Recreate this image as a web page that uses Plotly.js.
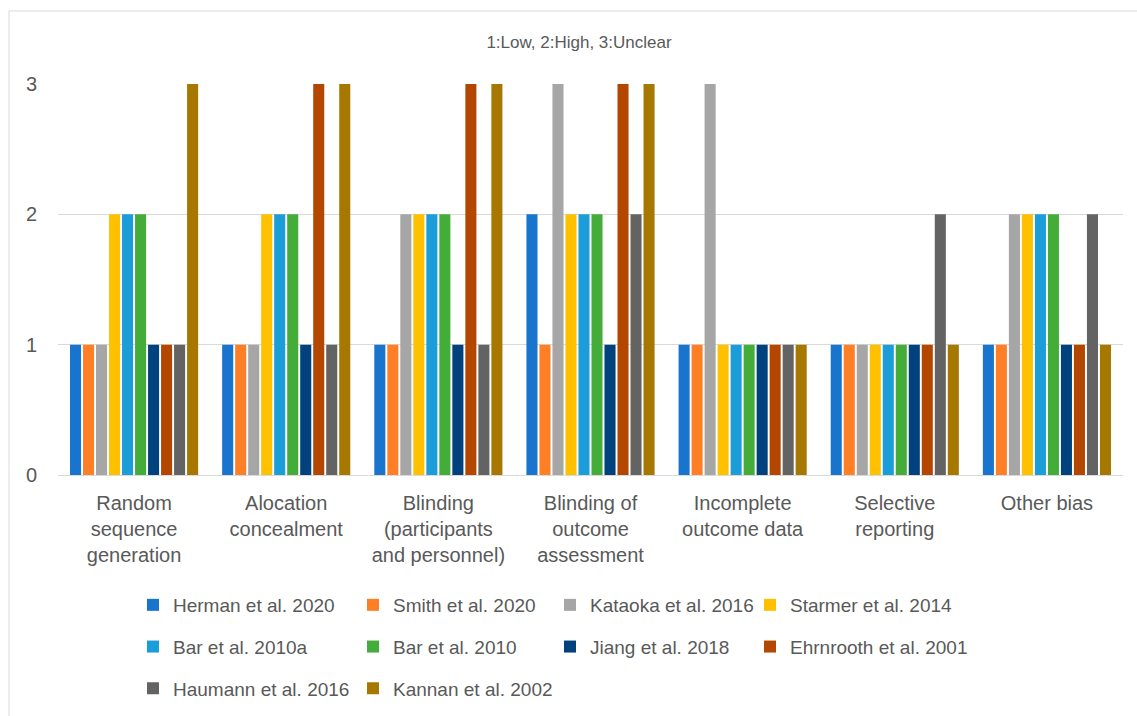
<!DOCTYPE html>
<html>
<head>
<meta charset="utf-8">
<script src="https://cdn.plot.ly/plotly-3.0.1.min.js"></script>
<style>html,body{margin:0;padding:0;background:#fff;}#chart{width:1137px;height:716px;}</style>
</head>
<body>
<div id="chart"></div>
<script>
// ---- Data ----
const categories = [
  "Random<br>sequence<br>generation",
  "Alocation<br>concealment",
  "Blinding<br>(participants<br>and personnel)",
  "Blinding of<br>outcome<br>assessment",
  "Incomplete<br>outcome data",
  "Selective<br>reporting",
  "Other bias"
];
const studies = [
  "Herman et al. 2020", "Smith et al. 2020", "Kataoka et al. 2016", "Starmer et al. 2014",
  "Bar et al. 2010a", "Bar et al. 2010", "Jiang et al. 2018", "Ehrnrooth et al. 2001",
  "Haumann et al. 2016", "Kannan et al. 2002"
];
const herman    = [1, 1, 1, 2, 1, 1, 1];
const smith     = [1, 1, 1, 1, 1, 1, 1];
const kataoka   = [1, 1, 2, 3, 3, 1, 2];
const starmer   = [2, 2, 2, 2, 1, 1, 2];
const bar2010a  = [2, 2, 2, 2, 1, 1, 2];
const bar2010   = [2, 2, 2, 2, 1, 1, 2];
const jiang     = [1, 1, 1, 1, 1, 1, 1];
const ehrnrooth = [1, 3, 3, 3, 1, 1, 1];
const haumann   = [1, 1, 1, 2, 1, 2, 2];
const kannan    = [3, 3, 3, 3, 1, 1, 1];
const yTicks = [0, 1, 2, 3];
const chartTitle = "1:Low, 2:High, 3:Unclear";

// ---- Styling ----
const seriesValues = [herman, smith, kataoka, starmer, bar2010a, bar2010, jiang, ehrnrooth, haumann, kannan];
const colors = ["#1874CD", "#FF7F27", "#A6A6A6", "#FFC000", "#1B9DD9", "#44AD3A", "#00417E", "#B34700", "#636363", "#A67800"];

const L = 58, R = 14, T = 84, B = 241, FW = 1137, FH = 716;
const PW = FW - L - R, PH = FH - T - B;
const px2x = p => (p - L) / PW;
const py2y = p => (FH - B - p) / PH;

const textColor = "#595959";
const font = "Liberation Sans, Arial, sans-serif";
const legendFontSize = 19;
const legendIds = ["legend", "legend2", "legend3", "legend4"];
const legendTextX = [173, 393, 590, 790];

const traces = studies.map((name, i) => ({
  type: "bar",
  name: name,
  x: categories,
  y: seriesValues[i],
  marker: { color: colors[i], line: { width: 0 } },
  legend: legendIds[i % 4],
  legendgroup: "g" + i,
  hoverinfo: "name+y"
}));

const layout = {
  width: FW, height: FH,
  margin: { l: L, r: R, t: T, b: B, pad: 0, autoexpand: false },
  paper_bgcolor: "#ffffff",
  plot_bgcolor: "#ffffff",
  font: { family: font, color: textColor },
  barmode: "group",
  bargap: 0.145,
  bargroupgap: 0.15,
  title: {
    text: chartTitle,
    font: { size: 17, color: textColor, family: font },
    xref: "container", yref: "container",
    x: 579 / FW, y: 1 - 42 / FH, xanchor: "center", yanchor: "middle"
  },
  xaxis: {
    type: "category",
    showgrid: false, showline: false, zeroline: false,
    ticks: "",
    tickfont: { size: 20, color: textColor, family: font },
    ticklabelstandoff: 14,
    tickangle: 0,
    automargin: false,
    fixedrange: true
  },
  yaxis: {
    range: [0, 3],
    tickvals: yTicks,
    showgrid: true, gridcolor: "#D9D9D9", gridwidth: 1,
    zeroline: true, zerolinecolor: "#D9D9D9", zerolinewidth: 1,
    showline: false, ticks: "",
    tickfont: { size: 20, color: textColor, family: font },
    ticklabelstandoff: 20,
    automargin: false,
    fixedrange: true
  },
  showlegend: true,
  shapes: [
    { type: "line", xref: "paper", yref: "paper", x0: px2x(9), x1: px2x(1137), y0: py2y(11), y1: py2y(11), line: { color: "#D9D9D9", width: 1 } },
    { type: "line", xref: "paper", yref: "paper", x0: px2x(9), x1: px2x(9), y0: py2y(11), y1: py2y(716), line: { color: "#D9D9D9", width: 1 } }
  ]
};

legendIds.forEach((id, c) => {
  layout[id] = {
    orientation: "v",
    x: px2x(legendTextX[c] - 40), xanchor: "left",
    y: py2y(586), yanchor: "top",
    font: { size: legendFontSize, color: textColor, family: font },
    bgcolor: "rgba(0,0,0,0)",
    borderwidth: 0,
    tracegroupgap: 14,
    traceorder: "grouped"
  };
});

Plotly.newPlot("chart", traces, layout, { displayModeBar: false, staticPlot: true });
</script>
</body>
</html>
